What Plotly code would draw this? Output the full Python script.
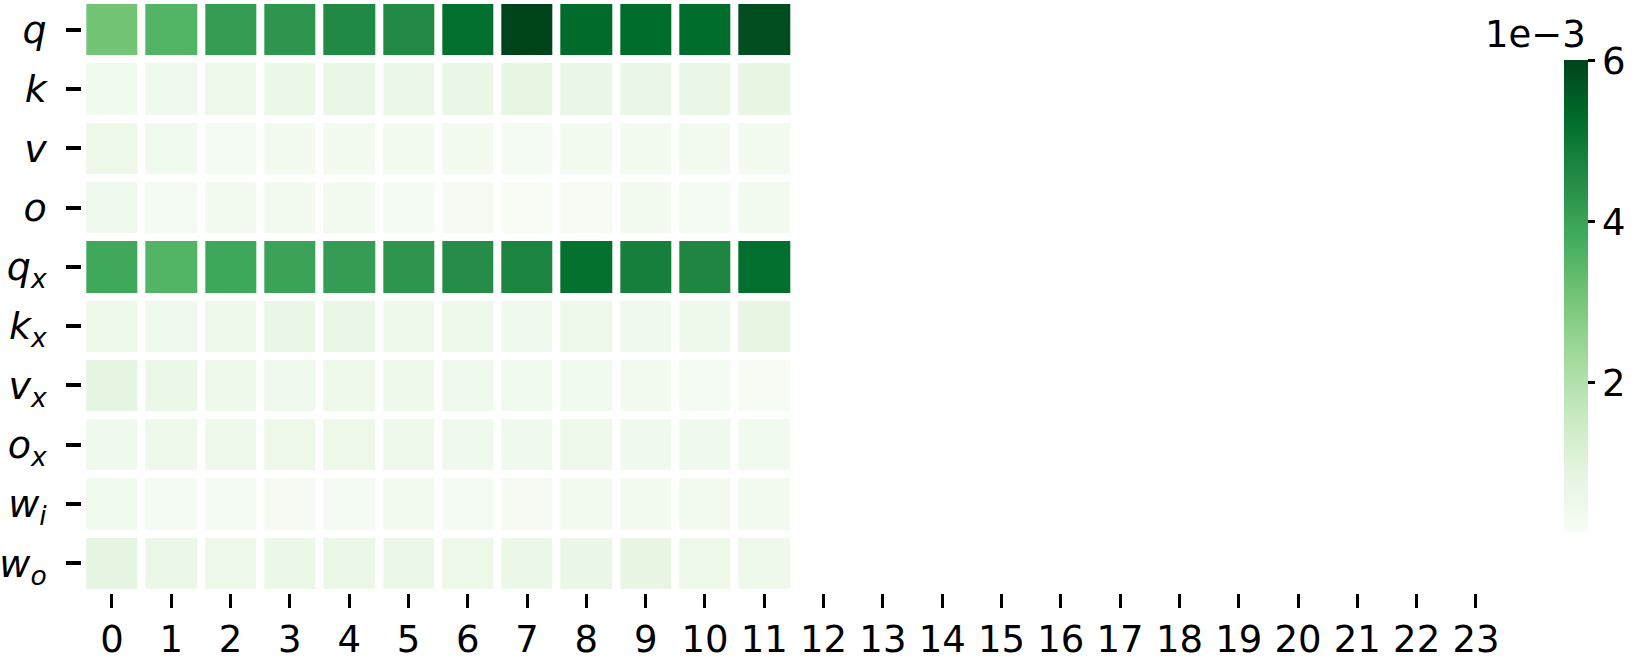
import plotly.graph_objects as go
import plotly.colors as pc

# values in units of 1e-3
row_labels = ["<i>q</i>", "<i>k</i>", "<i>v</i>", "<i>o</i>",
              "<i>q<sub>x</sub></i>", "<i>k<sub>x</sub></i>", "<i>v<sub>x</sub></i>",
              "<i>o<sub>x</sub></i>", "<i>w<sub>i</sub></i>", "<i>w<sub>o</sub></i>"]
layers = list(range(12))
x_tick_labels = [str(i) for i in range(24)]

q  = [3.08, 3.55, 4.13, 4.31, 4.60, 4.57, 5.22, 6.01, 5.31, 5.28, 5.28, 5.83]
k  = [0.38, 0.44, 0.56, 0.62, 0.68, 0.62, 0.68, 0.79, 0.68, 0.68, 0.68, 0.74]
v  = [0.56, 0.38, 0.27, 0.30, 0.33, 0.33, 0.33, 0.27, 0.33, 0.33, 0.33, 0.30]
o  = [0.44, 0.27, 0.33, 0.30, 0.33, 0.27, 0.24, 0.15, 0.20, 0.30, 0.27, 0.33]
qx = [3.87, 3.55, 3.90, 3.99, 4.13, 4.31, 4.49, 4.72, 5.19, 4.84, 4.66, 5.22]
kx = [0.56, 0.44, 0.56, 0.68, 0.68, 0.56, 0.50, 0.44, 0.56, 0.44, 0.50, 0.74]
vx = [0.85, 0.62, 0.50, 0.44, 0.50, 0.50, 0.44, 0.38, 0.38, 0.33, 0.27, 0.21]
ox = [0.44, 0.50, 0.50, 0.56, 0.56, 0.50, 0.44, 0.44, 0.50, 0.44, 0.44, 0.38]
wi = [0.38, 0.27, 0.27, 0.24, 0.27, 0.33, 0.27, 0.24, 0.33, 0.33, 0.33, 0.33]
wo = [0.85, 0.62, 0.56, 0.62, 0.62, 0.62, 0.56, 0.62, 0.68, 0.74, 0.56, 0.50]

z = [q, k, v, o, qx, kx, vx, ox, wi, wo]
cbar_ticks = [2, 4, 6]

W, H = 1643, 662
FONT = "DejaVu Sans"
FS = 37

fig = go.Figure(go.Heatmap(
    z=z, x=layers, y=list(range(len(row_labels))),
    colorscale=pc.sequential.Greens,
    zmin=0.15, zmax=6.01,
    xgap=8, ygap=8,
    colorbar=dict(
        thickness=24, thicknessmode="pixels",
        len=(532 - 60) / H, lenmode="fraction",
        x=1564 / W, xanchor="left", xpad=0,
        y=(H - 532) / H, yanchor="bottom", ypad=0,
        outlinewidth=0,
        tickvals=cbar_ticks, ticktext=[str(t) for t in cbar_ticks],
        ticks="outside", ticklen=7, tickwidth=3, tickcolor="black",
        tickfont=dict(family=FONT, size=FS, color="black"),
    ),
))

fig.update_layout(
    width=W, height=H,
    margin=dict(l=0, r=0, t=0, b=0),
    paper_bgcolor="white", plot_bgcolor="white",
    font=dict(family=FONT, size=FS, color="black"),
    xaxis=dict(
        domain=[82.3 / W, 1505.6 / W],
        range=[-0.5, 23.5],
        tickvals=list(range(24)), ticktext=x_tick_labels,
        ticks="outside", ticklen=14, tickwidth=3, tickcolor="black",
        showgrid=False, zeroline=False, showline=False,
        tickfont=dict(family=FONT, size=FS, color="black"),
        fixedrange=True,
    ),
    yaxis=dict(
        domain=[(H - 593) / H, 1.0],
        range=[9.5, -0.5],
        tickvals=list(range(len(row_labels))), ticktext=row_labels,
        ticks="outside", ticklen=15, tickwidth=4, tickcolor="black",
        ticklabelstandoff=12,
        showgrid=False, zeroline=False, showline=False,
        tickfont=dict(family=FONT, size=FS + 1, color="black"),
        fixedrange=True,
    ),
    annotations=[dict(
        text="1e\u22123", xref="paper", yref="paper",
        x=1588 / W, y=(H - 34) / H, xanchor="right", yanchor="middle",
        showarrow=False, font=dict(family=FONT, size=FS, color="black"),
    )],
)

fig.write_html("out.html")
